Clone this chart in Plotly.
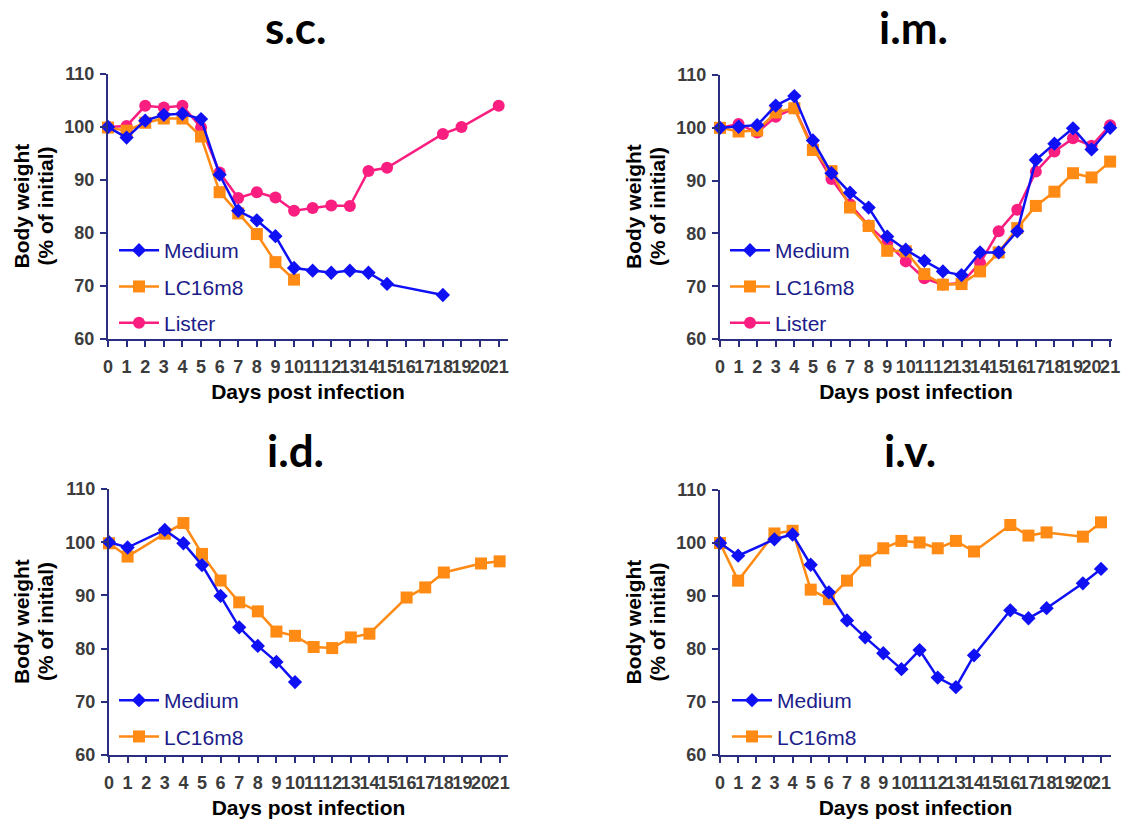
import plotly.graph_objects as go

W, H = 1134, 821

# ---------------- data ----------------
days_all = list(range(22))
tick_labels = [str(d) for d in days_all]

# s.c.
sc_medium_days = list(range(16)) + [18]
sc_medium = [100, 98.0, 101.2, 102.3, 102.5, 101.5, 91.0, 84.2, 82.4, 79.4, 73.4, 72.9, 72.5, 72.9, 72.5, 70.4, 68.3]
sc_lc_days = list(range(11))
sc_lc = [99.9, 99.3, 100.8, 101.6, 101.6, 98.2, 87.7, 83.7, 79.8, 74.5, 71.2]
sc_lister_days = list(range(16)) + [18, 19, 21]
sc_lister = [100, 100.2, 104.0, 103.7, 104.0, 99.9, 91.4, 86.6, 87.7, 86.7, 84.2, 84.7, 85.2, 85.1, 91.7, 92.3, 98.7, 100.0, 104.0]

# i.m.
im_days = list(range(22))
im_medium = [100, 100.2, 100.5, 104.2, 106.0, 97.6, 91.4, 87.7, 84.9, 79.4, 76.9, 74.8, 72.8, 72.1, 76.4, 76.4, 80.4, 93.9, 97.0, 99.9, 95.9, 100.0]
im_lc = [100, 99.3, 99.5, 102.9, 103.7, 95.8, 91.8, 84.9, 81.4, 76.7, 76.6, 72.3, 70.3, 70.4, 72.8, 76.4, 81.0, 85.2, 87.9, 91.4, 90.6, 93.6]
im_lister = [100, 100.7, 99.1, 102.1, 103.7, 96.3, 90.3, 85.5, 81.5, 78.2, 74.7, 71.5, 70.3, 70.6, 74.4, 80.4, 84.5, 91.7, 95.5, 98.0, 96.6, 100.5]

# i.d.
id_medium_days = [0, 1, 3, 4, 5, 6, 7, 8, 9, 10]
id_medium = [100, 99.0, 102.3, 99.8, 95.7, 89.9, 84.0, 80.5, 77.5, 73.7]
id_lc_days = [0, 1, 3, 4, 5, 6, 7, 8, 9, 10, 11, 12, 13, 14, 16, 17, 18, 20, 21]
id_lc = [99.8, 97.3, 101.6, 103.6, 97.8, 92.8, 88.7, 87.0, 83.2, 82.4, 80.3, 80.1, 82.1, 82.8, 89.6, 91.5, 94.3, 96.0, 96.4]

# i.v.
iv_days = [0, 1, 3, 4, 5, 6, 7, 8, 9, 10, 11, 12, 13, 14, 16, 17, 18, 20, 21]
iv_medium = [100, 97.6, 100.7, 101.6, 95.9, 90.7, 85.4, 82.2, 79.2, 76.2, 79.8, 74.6, 72.8, 78.8, 87.3, 85.8, 87.7, 92.4, 95.1]
iv_lc = [100, 92.9, 101.8, 102.3, 91.2, 89.4, 92.9, 96.7, 99.0, 100.4, 100.1, 99.0, 100.4, 98.4, 103.4, 101.4, 102.0, 101.2, 103.9]

y_ticks = [60, 70, 80, 90, 100, 110]
titles = ["s.c.", "i.m.", "i.d.", "i.v."]

# ---------------- styles ----------------
BLUE = "#1010F5"
ORANGE = "#FF8A14"
PINK = "#FA1E80"
NAVY = "#2B2E80"
LEGTXT = "#1C1C8A"
TICKTXT = "#3C3C3C"

STYLE = {
    "Medium": dict(color=BLUE, symbol="diamond", size=11, rank=1),
    "LC16m8": dict(color=ORANGE, symbol="square", size=12, rank=2),
    "Lister": dict(color=PINK, symbol="circle", size=12, rank=3),
}

# panel pixel boxes: (x0, x1, xmax, ytop, ybottom)
panels = [
    (108, 508, 21.5, 74, 339),
    (720, 1112, 21.1, 75, 339),
    (109, 508, 21.45, 489, 755),
    (720, 1111, 21.55, 490, 755),
]

fig = go.Figure()

series = [
    [("Lister", sc_lister_days, sc_lister), ("LC16m8", sc_lc_days, sc_lc), ("Medium", sc_medium_days, sc_medium)],
    [("Lister", im_days, im_lister), ("LC16m8", im_days, im_lc), ("Medium", im_days, im_medium)],
    [("LC16m8", id_lc_days, id_lc), ("Medium", id_medium_days, id_medium)],
    [("LC16m8", iv_days, iv_lc), ("Medium", iv_days, iv_medium)],
]

legend_pos = [(114, 230), (725, 230), (114, 680), (727, 680)]

for i, (x0, x1, xmax, yt, yb) in enumerate(panels):
    k = "" if i == 0 else str(i + 1)
    lg = "legend" if i == 0 else f"legend{i+1}"
    for name, xs, ys in series[i]:
        st = STYLE[name]
        fig.add_trace(go.Scatter(
            x=xs, y=ys, name=name, mode="lines+markers",
            line=dict(color=st["color"], width=2.5),
            marker=dict(color=st["color"], symbol=st["symbol"], size=st["size"]),
            xaxis="x" + k, yaxis="y" + k, cliponaxis=False,
            legend=lg, legendgroup=f"{i}-{name}", legendrank=st["rank"],
        ))
    fig.layout["xaxis" + k] = dict(
        domain=[x0 / W, x1 / W], range=[0, xmax], anchor="y" + k, automargin=False,
        tickmode="array", tickvals=days_all, ticktext=tick_labels, tickangle=0,
        showline=True, linecolor=NAVY, linewidth=2,
        ticks="outside", ticklen=6, tickwidth=2, tickcolor=NAVY,
        tickfont=dict(family="Liberation Sans", size=18, color=TICKTXT, weight="bold"),
        ticklabelstandoff=4,
        showgrid=False, zeroline=False,
        title=dict(text="Days post infection", standoff=9,
                   font=dict(family="Liberation Sans", size=21, color="#000000", weight="bold")),
    )
    fig.layout["yaxis" + k] = dict(
        domain=[1 - yb / H, 1 - yt / H], range=[60, 110], anchor="x" + k, automargin=False,
        tickmode="array", tickvals=y_ticks,
        showline=True, linecolor=NAVY, linewidth=2,
        ticks="outside", ticklen=6, tickwidth=2, tickcolor=NAVY,
        tickfont=dict(family="Liberation Sans", size=18, color=TICKTXT, weight="bold"),
        ticklabelstandoff=2,
        showgrid=False, zeroline=False,
    )
    lx, ly = legend_pos[i]
    fig.layout[lg] = dict(
        x=lx / W, y=1 - ly / H, xanchor="left", yanchor="top",
        bgcolor="rgba(0,0,0,0)", borderwidth=0,
        font=dict(family="Liberation Sans", size=21, color=LEGTXT),
        traceorder="grouped", tracegroupgap=6, itemwidth=40,
    )

# titles
title_pos = [(295, 27), (913, 27), (295, 450), (910, 450)]
for t, (tx, ty) in zip(titles, title_pos):
    fig.add_annotation(text=t, x=tx / W, y=1 - ty / H, xref="paper", yref="paper",
                       showarrow=False, xanchor="center", yanchor="middle",
                       font=dict(family="Lato", size=44, color="#000000", weight="bold"))

# y-axis titles
ytitle_x = [(21, 45), (633, 657), (21, 45), (633, 657)]
for i, (x0, x1, xmax, yt, yb) in enumerate(panels):
    yc = (yt + yb) / 2
    for txt, px in zip(["Body weight", "(% of initial)"], ytitle_x[i]):
        fig.add_annotation(text=txt, x=px / W, y=1 - yc / H, xref="paper", yref="paper",
                           showarrow=False, xanchor="center", yanchor="middle", textangle=-90,
                           font=dict(family="Liberation Sans", size=21, color="#000000", weight="bold"))

fig.update_layout(
    width=W, height=H, margin=dict(l=0, r=0, t=0, b=0),
    paper_bgcolor="white", plot_bgcolor="white", showlegend=True,
)

fig.write_html("out.html")
